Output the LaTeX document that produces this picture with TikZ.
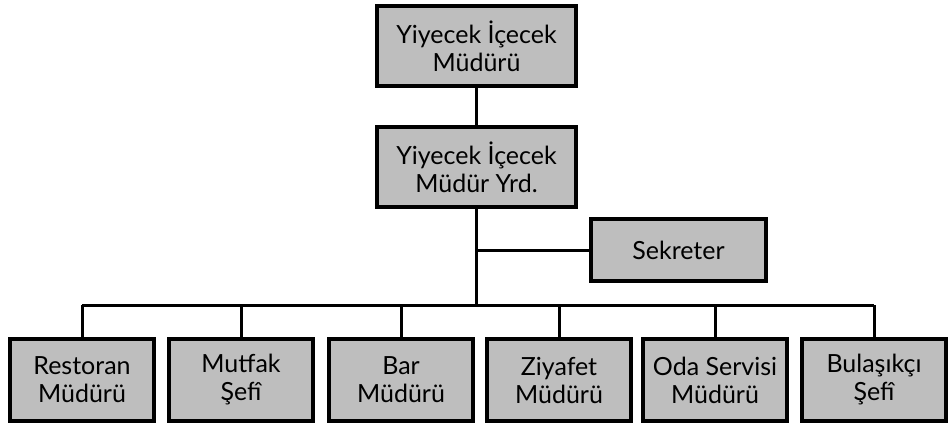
\documentclass[tikz,border=0pt]{standalone}
\usepackage{fontspec}
\setmainfont{Lato}
\begin{document}
\begin{tikzpicture}[x=1pt,y=-1pt,
  unit/.style={draw=black, line width=4pt, fill=boxgray, align=center,
    font=\fontsize{25}{28}\selectfont, inner sep=0pt},
  headbox/.style={unit, minimum width=199pt, minimum height=80pt},
  sidebox/.style={unit, minimum width=175pt, minimum height=62pt},
  leafbox/.style={unit, minimum width=144pt, minimum height=82pt},
  link/.style={line width=3pt, draw=black}]
  \definecolor{boxgray}{RGB}{190,190,190}
  \useasboundingbox (0,0) rectangle (951,424);

  % management chain
  \node[headbox] (mgr) at (476.5,46) {Yiyecek İçecek\\Müdürü};
  \node[headbox] (yrd) at (476.5,167) {Yiyecek İçecek\\Müdür Yrd.};
  \node[sidebox] (sek) at (678.5,250) {Sekreter};

  % department heads
  \node[leafbox] (rest) at (82,380)  {Restoran\\Müdürü};
  \node[leafbox] (mut)  at (241,380) {Mutfak\\Şefî};
  \node[leafbox] (bar)  at (401,380) {Bar\\Müdürü};
  \node[leafbox] (ziy)  at (559,380) {Ziyafet\\Müdürü};
  \node[leafbox] (oda)  at (715,380) {Oda Servisi\\Müdürü};
  \node[leafbox] (bul)  at (874,380) {Bulaşıkçı\\Şefî};

  \coordinate (bus) at (477,305);

  % connectors
  \draw[link] (mgr.south) -- (yrd.north);
  \draw[link] (yrd.south) -- (yrd.south |- bus);
  \draw[link] (yrd.south |- sek.west) -- (sek.west);
  \draw[link] (rest.north |- bus) -- (bul.north |- bus);
  \foreach \n in {rest,mut,bar,ziy,oda,bul}
    \draw[link] (\n.north) -- (\n.north |- bus);
\end{tikzpicture}
\end{document}
